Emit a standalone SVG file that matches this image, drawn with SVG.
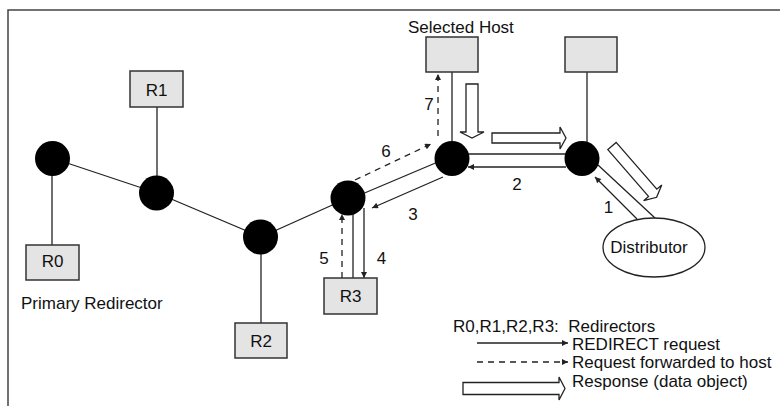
<svg xmlns="http://www.w3.org/2000/svg" width="780" height="406" viewBox="0 0 780 406">
<style>
text{font-family:"Liberation Sans",Arial,sans-serif;font-size:17px;fill:#111}
.c{text-anchor:middle}
.box{fill:#e4e4e4;stroke:#333;stroke-width:1.5}
.node{fill:#000}
.ln{stroke:#222;stroke-width:1.3;fill:none}
.ar{stroke:#222;stroke-width:1.3;fill:none;marker-end:url(#ah)}
.da{stroke:#222;stroke-width:1.3;fill:none;stroke-dasharray:6 5;marker-end:url(#ah)}
.ho{fill:#fff;stroke:#222;stroke-width:1.3;stroke-linejoin:miter}
</style>
<defs>
<marker id="ah" viewBox="0 0 10 10" refX="10" refY="5" markerWidth="7" markerHeight="6" markerUnits="userSpaceOnUse" orient="auto">
<path d="M0,0 L10,5 L0,10 Z" fill="#222"/>
</marker>
</defs>
<rect width="780" height="406" fill="#fff"/>
<path d="M8,406 V10 H780" fill="none" stroke="#444" stroke-width="1.5"/>

<g id="connectors">
<line class="ln" x1="52" y1="158" x2="157" y2="193"/>
<line class="ln" x1="157" y1="193" x2="261" y2="237"/>
<line class="ln" x1="261" y1="237" x2="348" y2="198"/>
<line class="ln" x1="348" y1="200" x2="452" y2="156"/>
<line class="ln" x1="157" y1="107" x2="157" y2="176"/>
<line class="ln" x1="52" y1="158" x2="52" y2="245"/>
<line class="ln" x1="261" y1="237" x2="261" y2="323"/>
<line class="ln" x1="353" y1="212" x2="353" y2="278"/>
<line class="ln" x1="452" y1="72" x2="452" y2="145"/>
<line class="ln" x1="587" y1="72" x2="587" y2="145"/>
<line class="ln" x1="468" y1="154" x2="566" y2="154"/>
<line class="ln" x1="598" y1="165" x2="655" y2="218"/>
<line class="ar" x1="637" y1="219" x2="595" y2="177"/>
<line class="ar" x1="566" y1="167" x2="468" y2="167"/>
<line class="ar" x1="443" y1="177" x2="372" y2="208"/>
<line class="ar" x1="364" y1="208" x2="364" y2="278"/>
<line class="da" x1="342" y1="278" x2="342" y2="214"/>
<line class="da" x1="355" y1="180" x2="431" y2="144"/>
<line class="da" x1="438" y1="136" x2="438" y2="74"/>
<path class="ho" d="M466,84 H478 V132 H484 L472,138 L460,132 H466 Z"/>
<path class="ho" d="M492,133 H560 V127 L566,138 L560,149 V143 H492 Z"/>
<path class="ho" transform="translate(612,146) rotate(49)" d="M0,-5.5 H62 V-12 L68,0 L62,12 V5.5 H0 Z"/>
</g>

<g id="N0"><circle class="node" cx="52.5" cy="158.5" r="17.5"/></g>
<g id="N1"><circle class="node" cx="156.5" cy="193" r="17.5"/></g>
<g id="N2"><circle class="node" cx="260.5" cy="237" r="17.5"/></g>
<g id="N3"><circle class="node" cx="348" cy="198" r="17.5"/></g>
<g id="N4"><circle class="node" cx="452" cy="158.5" r="17.5"/></g>
<g id="N5"><circle class="node" cx="582" cy="158.5" r="17.5"/></g>

<g id="R0"><rect class="box" x="26" y="245" width="53" height="35"/><text class="c" x="52.5" y="267">R0</text></g>
<g id="R1"><rect class="box" x="130" y="71" width="53" height="36"/><text class="c" x="156.5" y="96">R1</text></g>
<g id="R2"><rect class="box" x="235" y="323" width="52" height="35"/><text class="c" x="261" y="347">R2</text></g>
<g id="R3"><rect class="box" x="324" y="278" width="53" height="36"/><text class="c" x="350.5" y="302">R3</text></g>
<g id="SelectedHost"><rect class="box" x="426" y="37" width="52" height="35"/><text x="408" y="33">Selected Host</text></g>
<g id="Host2"><rect class="box" x="565" y="37" width="52" height="35"/></g>
<g id="Distributor"><ellipse cx="654" cy="247.5" rx="51" ry="29.5" fill="#fff" stroke="#222" stroke-width="1.3"/><text class="c" x="649" y="253">Distributor</text></g>
<g id="PrimaryLabel"><text x="21" y="309">Primary Redirector</text></g>

<g id="labels">
<text class="c" x="608.5" y="213">1</text>
<text class="c" x="517" y="190">2</text>
<text class="c" x="413" y="220">3</text>
<text class="c" x="381.5" y="264">4</text>
<text class="c" x="324" y="264">5</text>
<text class="c" x="386" y="157">6</text>
<text class="c" x="429" y="110">7</text>
</g>

<g id="legend">
<text x="453" y="332" xml:space="preserve">R0,R1,R2,R3:  Redirectors</text>
<line class="ar" x1="477" y1="343" x2="568" y2="343"/>
<text x="572" y="350">REDIRECT request</text>
<line class="da" x1="477" y1="362" x2="568" y2="362"/>
<text x="572" y="368">Request forwarded to host</text>
<path class="ho" d="M463,382.5 H559 V377 L565,388.5 L559,400 V394.5 H463 Z"/>
<text x="572" y="387">Response (data object)</text>
</g>
</svg>
